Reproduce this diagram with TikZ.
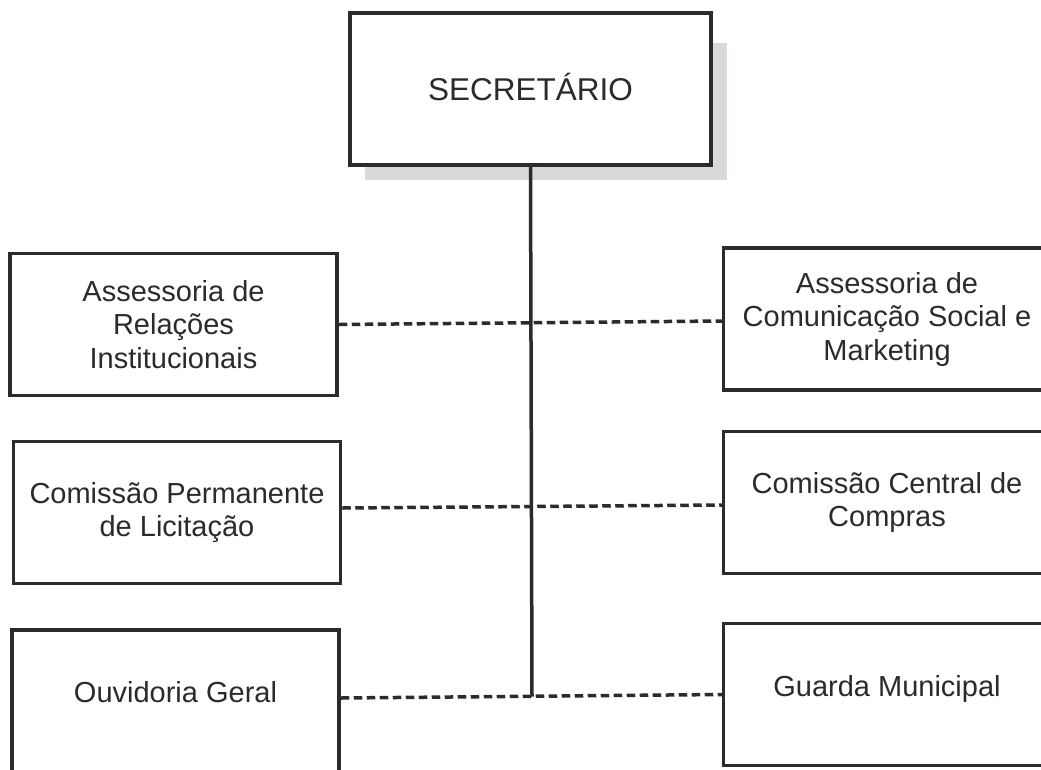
\documentclass[tikz,border=0pt]{standalone}
\usepackage{fontspec}
\setmainfont{Liberation Sans}
\definecolor{ink}{HTML}{2B2B2E}
\definecolor{shadowgray}{HTML}{DAD8DA}
\tikzset{
  unit/.style={draw=ink, line width=3.5pt, text=ink, align=center, inner sep=0pt,
    minimum width=327pt, minimum height=142pt, font=\fontsize{29}{33.5}\selectfont},
  oneline/.style={text depth=18pt},
  link/.style={draw=ink, line width=3.5pt, dash pattern=on 8.5pt off 4.5pt},
  trunk/.style={draw=ink, line width=3.5pt},
}
\begin{document}
\begin{tikzpicture}[x=1pt,y=-1pt]
\path[use as bounding box, fill=white] (0,0) rectangle (1041,769);

% Top box with its shadow
\fill[shadowgray] (365,43) rectangle (727,180);
\node[unit, fill=white, minimum width=361pt, minimum height=152pt, font=\fontsize{31.5}{36}\selectfont,
  text height=23pt, text depth=0pt] (sec) at (530.5,89) {SECRETÁRIO};

% Left column
\node[unit] (rel) at (173.5,324.5) {Assessoria de\\Relações\\Institucionais};
\node[unit] (lic) at (177,512.5) {Comissão Permanente\\de Licitação};
\node[unit, oneline] (ouv) at (175.5,701) {Ouvidoria Geral};

% Right column
\node[unit] (com) at (887,319) {Assessoria de\\Comunicação Social e\\Marketing};
\node[unit] (cmp) at (887,502.5) {Comissão Central de\\Compras};
\node[unit, oneline] (gua) at (887,694.5) {Guarda Municipal};

% Dashed links
\draw[link] (rel.east) -- ([yshift=-2pt]com.west);
\draw[link] ([yshift=4.5pt]lic.east) -- ([yshift=-2.5pt]cmp.west);
\draw[link] ([yshift=3pt]ouv.east) -- (gua.west);

% Trunk
\coordinate (hub) at (532,696.5);
\draw[trunk] (sec.south) -- (hub);

\end{tikzpicture}
\end{document}
